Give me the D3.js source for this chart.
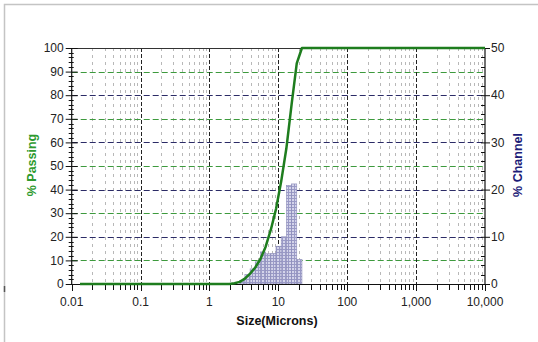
<!DOCTYPE html>
<html><head><meta charset="utf-8">
<script src="https://cdn.jsdelivr.net/npm/d3@7"></script>
<style>body{margin:0;background:#fff}svg{display:block}text{font-family:Arial,"Liberation Sans",sans-serif}</style>
</head><body><svg id="c" width="538" height="342"></svg>
<script>
// ---- data ----
const sizeTicks = [0.01, 0.1, 1, 10, 100, 1000, 10000];
const sizeTickLabels = ["0.01", "0.1", "1", "10", "100", "1,000", "10,000"];
const passingTicks = [0, 10, 20, 30, 40, 50, 60, 70, 80, 90, 100];
const channelTicks = [0, 10, 20, 30, 40, 50];
const curveSizes = [0.0132, 1.63, 1.945, 2.31, 2.75, 3.27, 3.89, 4.62, 5.50, 6.54, 7.78, 9.25, 11.0, 13.08, 15.56, 18.5, 22.0, 10000];
const curvePassing = [0, 0, 0, 0.3, 0.9, 2.3, 4.4, 7.0, 10.6, 15.8, 23.0, 31.8, 43.5, 57.5, 76.0, 93.5, 100, 100];
const channelLow = [2.75, 3.27, 3.89, 4.62, 5.50, 6.54, 7.78, 9.25, 11.0, 13.08, 15.56, 18.5];
const channelHigh = [3.27, 3.89, 4.62, 5.50, 6.54, 7.78, 9.25, 11.0, 13.08, 15.56, 18.5, 22.0];
const channelPct = [0.7, 2.0, 3.2, 4.7, 6.8, 6.4, 6.5, 8.0, 10.0, 20.9, 21.2, 5.2];

const svg = d3.select("#c");
const L = 71.7, R = 485, T = 48, B = 284;
const x = d3.scaleLog().domain([0.01, 10000]).range([L, R]);
const yL = d3.scaleLinear().domain([0, 100]).range([B, T]);
const yR = d3.scaleLinear().domain([0, 50]).range([B, T]);

// frame
svg.append("rect").attr("x", 4.5).attr("y", 4.5).attr("width", 560).attr("height", 360)
  .attr("fill", "none").attr("stroke", "#c4c4c4").attr("stroke-width", 1.5);
svg.append("line").attr("x1", 4.5).attr("x2", 4.5).attr("y1", 286).attr("y2", 292).attr("stroke", "#555").attr("stroke-width", 1.5);

// pattern for bars
const defs = svg.append("defs");
const pat = defs.append("pattern").attr("id", "hatch").attr("patternUnits", "userSpaceOnUse")
  .attr("width", 3).attr("height", 3);
pat.append("rect").attr("width", 3).attr("height", 3).attr("fill", "#d4d4ea");
pat.append("rect").attr("width", 3).attr("height", 1).attr("fill", "#9a9ac6");
pat.append("rect").attr("width", 1).attr("height", 3).attr("fill", "#9a9ac6");

const allTicks = x.ticks();
const minor = allTicks.filter(t => !sizeTicks.some(m => Math.abs(m - t) / m < 1e-6));
const g = svg.append("g");

// minor vertical grid
g.selectAll(".vmin").data(minor).join("line")
  .attr("x1", d => Math.round(x(d)) + 0.5).attr("x2", d => Math.round(x(d)) + 0.5)
  .attr("y1", T).attr("y2", B).attr("stroke", "#b8b8b8").attr("stroke-width", 1)
  .attr("stroke-dasharray", "3,4");

// horizontal grid
const hGreen = passingTicks.filter(v => v > 0 && v < 100 && v % 20 === 10);
const hNavy = channelTicks.filter(v => v > 0 && v < 50);
g.selectAll(".hg").data(hGreen).join("line")
  .attr("x1", L).attr("x2", R).attr("y1", d => Math.round(yL(d)) + 0.5).attr("y2", d => Math.round(yL(d)) + 0.5)
  .attr("stroke", "#3d9a3d").attr("stroke-width", 1.2).attr("stroke-dasharray", "6,3");
g.selectAll(".hn").data(hNavy).join("line")
  .attr("x1", L).attr("x2", R).attr("y1", d => Math.round(yR(d)) + 0.5).attr("y2", d => Math.round(yR(d)) + 0.5)
  .attr("stroke", "#2b2b66").attr("stroke-width", 1.2).attr("stroke-dasharray", "6,3");

// major vertical grid
g.selectAll(".vmaj").data(sizeTicks.slice(1, -1)).join("line")
  .attr("x1", d => Math.round(x(d)) + 0.5).attr("x2", d => Math.round(x(d)) + 0.5)
  .attr("y1", T).attr("y2", B).attr("stroke", "#222").attr("stroke-width", 1)
  .attr("stroke-dasharray", "4,2");

// bars
svg.selectAll(".bar").data(channelPct).join("rect")
  .attr("x", (d, i) => x(channelLow[i])).attr("width", (d, i) => x(channelHigh[i]) - x(channelLow[i]))
  .attr("y", d => yR(d)).attr("height", d => B - yR(d))
  .attr("fill", "url(#hatch)").attr("stroke", "#8a8ab8").attr("stroke-width", 0.6);

// axes lines
svg.append("line").attr("x1", L).attr("x2", R).attr("y1", T + 0.5).attr("y2", T + 0.5).attr("stroke", "#333").attr("stroke-width", 1.2);
svg.append("line").attr("x1", L).attr("x2", R).attr("y1", B + 0.5).attr("y2", B + 0.5).attr("stroke", "#111").attr("stroke-width", 1.2);
svg.append("line").attr("x1", L).attr("x2", L).attr("y1", T).attr("y2", B + 1).attr("stroke", "#111").attr("stroke-width", 1.2);
svg.append("line").attr("x1", R).attr("x2", R).attr("y1", T).attr("y2", B + 1).attr("stroke", "#111").attr("stroke-width", 1.2);

// left ticks
const leftMinor = d3.range(0, 101, 2).filter(v => v % 10 !== 0);
svg.selectAll(".lmaj").data(passingTicks).join("line")
  .attr("x1", L - 6).attr("x2", L + 6).attr("y1", d => yL(d) + 0.5).attr("y2", d => yL(d) + 0.5)
  .attr("stroke", "#111").attr("stroke-width", 1);
svg.selectAll(".lmin").data(leftMinor).join("line")
  .attr("x1", L - 3).attr("x2", L + 2).attr("y1", d => Math.round(yL(d)) + 0.5).attr("y2", d => Math.round(yL(d)) + 0.5)
  .attr("stroke", "#111").attr("stroke-width", 1);
svg.selectAll(".ltxt").data(passingTicks).join("text")
  .attr("x", L - 8).attr("y", d => yL(d)).attr("dy", "0.35em").attr("text-anchor", "end")
  .attr("font-size", 12).attr("fill", "#222").text(d => d);

// right ticks
const rightMinor = d3.range(0, 51, 2).filter(v => v % 10 !== 0);
svg.selectAll(".rmaj").data(channelTicks).join("line")
  .attr("x1", R - 4).attr("x2", R + 5).attr("y1", d => yR(d) + 0.5).attr("y2", d => yR(d) + 0.5)
  .attr("stroke", "#111").attr("stroke-width", 1);
svg.selectAll(".rmin").data(rightMinor).join("line")
  .attr("x1", R - 4).attr("x2", R).attr("y1", d => Math.round(yR(d)) + 0.5).attr("y2", d => Math.round(yR(d)) + 0.5)
  .attr("stroke", "#111").attr("stroke-width", 1);
svg.selectAll(".rtxt").data(channelTicks).join("text")
  .attr("x", R + 6).attr("y", d => yR(d)).attr("dy", "0.35em").attr("text-anchor", "start")
  .attr("font-size", 12).attr("fill", "#222").text(d => d);

// bottom ticks
svg.selectAll(".bmin").data(minor).join("line")
  .attr("x1", d => Math.round(x(d)) + 0.5).attr("x2", d => Math.round(x(d)) + 0.5)
  .attr("y1", B).attr("y2", B + 6).attr("stroke", "#111").attr("stroke-width", 1);
svg.selectAll(".bmaj").data(sizeTicks).join("line")
  .attr("x1", d => Math.round(x(d)) + 0.5).attr("x2", d => Math.round(x(d)) + 0.5)
  .attr("y1", B).attr("y2", B + 7).attr("stroke", "#111").attr("stroke-width", 1);
svg.selectAll(".btxt").data(sizeTicks).join("text")
  .attr("x", d => x(d)).attr("y", 306).attr("text-anchor", "middle")
  .attr("font-size", 12).attr("fill", "#222").text((d, i) => sizeTickLabels[i]);

// curve
const pts = curveSizes.map((s, i) => [x(s), yL(curvePassing[i])]);
svg.append("path").attr("d", d3.line()(pts)).attr("fill", "none")
  .attr("stroke", "#1e7d1e").attr("stroke-width", 2.5).attr("stroke-linejoin", "round");

// axis titles
svg.append("text").attr("x", 277).attr("y", 325).attr("text-anchor", "middle")
  .attr("font-size", 12.5).attr("font-weight", "bold").attr("fill", "#111").text("Size(Microns)");
svg.append("text").attr("transform", "translate(36,165) rotate(-90)").attr("text-anchor", "middle")
  .attr("font-size", 12.5).attr("font-weight", "bold").attr("fill", "#2e9a2e").text("% Passing");
svg.append("text").attr("transform", "translate(522,165) rotate(-90)").attr("text-anchor", "middle")
  .attr("font-size", 12.5).attr("font-weight", "bold").attr("fill", "#1c1c78").text("% Channel");
</script></body></html>
